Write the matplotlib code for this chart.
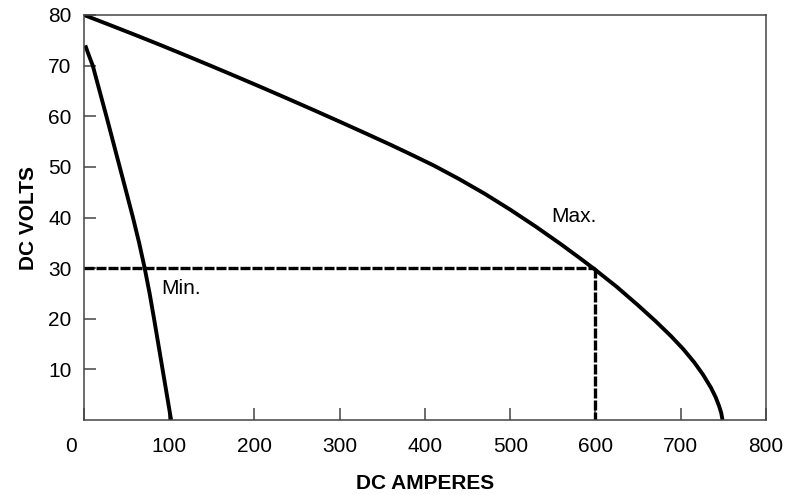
import numpy as np
import matplotlib.pyplot as plt
import matplotlib.transforms as mtrans

plt.rcParams['font.family'] = ['Liberation Sans', 'DejaVu Sans']

# Max. curve (amperes, volts)
max_amps = [0, 30, 60, 90, 120, 150, 180, 210, 240, 270, 300, 330, 360, 385, 410,
            440, 470, 500, 530, 560, 585, 600.3, 625, 649, 670, 688.4, 703, 715.8, 726,
            735.4, 741, 745.1, 747.5, 749]
max_volts = [80, 78.05, 76.07, 74.05, 71.98, 69.88, 67.75, 65.59, 63.4, 61.18, 58.93, 56.65, 54.34, 52.34, 50.3,
             47.6, 44.7, 41.55, 38.2, 34.66, 31.56, 29.6, 26.3, 22.8, 19.6, 16.6, 14.0, 11.4, 9.0,
             6.4, 4.5, 2.7, 1.4, 0]

# Min. curve
min_amps = [1.5, 5.8, 10.3, 18.3, 26.3, 34.1, 41.9, 49.7, 57.45, 64.7, 71.2, 77.0, 82.2, 87.2, 92.2, 97.2, 102.2]
min_volts = [74, 72, 70, 65, 60, 55, 50, 45, 40, 35, 30, 25, 20, 15, 10, 5, 0]

# operating point marked by the dashed lines
op_amps = 600
op_volts = 30

x_ticks = [0, 100, 200, 300, 400, 500, 600, 700, 800]
y_ticks = [10, 20, 30, 40, 50, 60, 70, 80]

fig = plt.figure(figsize=(7.9, 4.95), dpi=100)
ax = fig.add_axes([0.1063, 0.1515, 0.8633, 0.8182])

ax.plot(max_amps, max_volts, color='black', lw=2.8, solid_capstyle='butt', solid_joinstyle='round')
ax.plot(min_amps, min_volts, color='black', lw=2.8, solid_capstyle='butt', solid_joinstyle='round')

ax.plot([0, op_amps], [op_volts, op_volts], color='black', lw=2.4, dashes=(3, 0.6))
ax.plot([op_amps, op_amps], [op_volts, 0], color='black', lw=2.4, dashes=(3, 0.6))

ax.text(548, 40.2, 'Max.', fontsize=15, va='center', ha='left')
ax.text(91, 25.9, 'Min.', fontsize=15, va='center', ha='left')

ax.set_xlim(0, 800)
ax.set_ylim(0, 80)
ax.set_xticks(x_ticks)
ax.set_yticks(y_ticks)
ax.tick_params(direction='in', length=8.6, width=1.1, color='#444444',
               labelsize=15, pad=9)
ax.tick_params(axis='x', pad=12)
for s in ax.spines.values():
    s.set_color('#444444')
    s.set_linewidth(1.1)

# the "0" sits left of the corner in the original
zero_lab = ax.get_xticklabels()[0]
zero_lab.set_transform(zero_lab.get_transform() +
                       mtrans.ScaledTranslation(-13 / 100, 0, fig.dpi_scale_trans))

ax.set_xlabel('DC AMPERES', fontsize=15, fontweight='bold', labelpad=13)
ax.set_ylabel('DC VOLTS', fontsize=15, fontweight='bold', labelpad=7)

fig.savefig('out.png', dpi=100)
